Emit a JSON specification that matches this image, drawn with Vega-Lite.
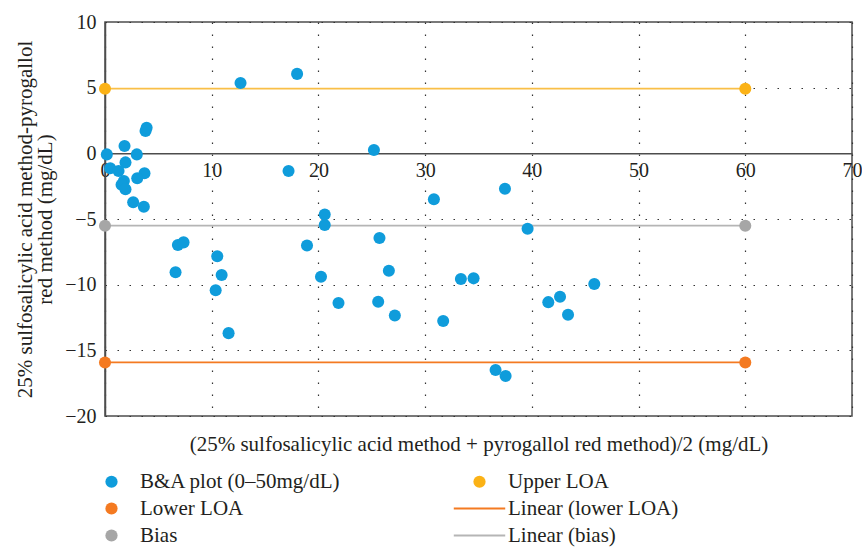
{
  "$schema": "https://vega.github.io/schema/vega-lite/v6.json",
  "width": 747,
  "height": 394,
  "autosize": "none",
  "padding": {"left": 105, "top": 22, "right": 10, "bottom": 131},
  "background": "white",
  "config": {
    "font": "'Liberation Serif', serif",
    "view": {"stroke": "#4d4d4d", "strokeWidth": 1.5},
    "axis": {
      "labelFont": "'Liberation Serif', serif",
      "titleFont": "'Liberation Serif', serif",
      "labelFontSize": 20,
      "titleFontSize": 21,
      "labelColor": "#231f20",
      "titleColor": "#231f20",
      "titleFontWeight": "normal",
      "domainColor": "#4d4d4d",
      "domainWidth": 1.5,
      "ticks": false,
      "gridColor": "#333333",
      "gridDash": [1.5, 10.5],
      "gridWidth": 1.2,
      "gridOpacity": 1
    }
  },
  "data": {
    "values": [
      {"x": 0, "y": 4.92, "s": "Upper LOA"},
      {"x": 60, "y": 4.92, "s": "Upper LOA"},
      {"x": 0, "y": -15.92, "s": "Lower LOA"},
      {"x": 60, "y": -15.92, "s": "Lower LOA"},
      {"x": 0, "y": -5.51, "s": "Bias"},
      {"x": 60, "y": -5.51, "s": "Bias"},
      {"x": 12.7, "y": 5.36, "s": "B&A plot (0–50mg/dL)"},
      {"x": 18.0, "y": 6.05, "s": "B&A plot (0–50mg/dL)"},
      {"x": 25.2, "y": 0.25, "s": "B&A plot (0–50mg/dL)"},
      {"x": 3.8, "y": 1.7, "s": "B&A plot (0–50mg/dL)"},
      {"x": 3.9, "y": 1.95, "s": "B&A plot (0–50mg/dL)"},
      {"x": 1.83, "y": 0.56, "s": "B&A plot (0–50mg/dL)"},
      {"x": 0.17, "y": -0.08, "s": "B&A plot (0–50mg/dL)"},
      {"x": 2.98, "y": -0.08, "s": "B&A plot (0–50mg/dL)"},
      {"x": 1.92, "y": -0.69, "s": "B&A plot (0–50mg/dL)"},
      {"x": 0.49, "y": -1.14, "s": "B&A plot (0–50mg/dL)"},
      {"x": 1.27, "y": -1.35, "s": "B&A plot (0–50mg/dL)"},
      {"x": 3.7, "y": -1.52, "s": "B&A plot (0–50mg/dL)"},
      {"x": 3.02, "y": -1.9, "s": "B&A plot (0–50mg/dL)"},
      {"x": 1.77, "y": -2.11, "s": "B&A plot (0–50mg/dL)"},
      {"x": 1.55, "y": -2.4, "s": "B&A plot (0–50mg/dL)"},
      {"x": 1.92, "y": -2.74, "s": "B&A plot (0–50mg/dL)"},
      {"x": 2.64, "y": -3.73, "s": "B&A plot (0–50mg/dL)"},
      {"x": 3.64, "y": -4.07, "s": "B&A plot (0–50mg/dL)"},
      {"x": 6.83, "y": -6.98, "s": "B&A plot (0–50mg/dL)"},
      {"x": 7.36, "y": -6.78, "s": "B&A plot (0–50mg/dL)"},
      {"x": 6.61, "y": -9.06, "s": "B&A plot (0–50mg/dL)"},
      {"x": 10.52, "y": -7.84, "s": "B&A plot (0–50mg/dL)"},
      {"x": 10.93, "y": -9.27, "s": "B&A plot (0–50mg/dL)"},
      {"x": 10.37, "y": -10.43, "s": "B&A plot (0–50mg/dL)"},
      {"x": 11.58, "y": -13.69, "s": "B&A plot (0–50mg/dL)"},
      {"x": 17.2, "y": -1.35, "s": "B&A plot (0–50mg/dL)"},
      {"x": 18.93, "y": -7.01, "s": "B&A plot (0–50mg/dL)"},
      {"x": 20.59, "y": -4.65, "s": "B&A plot (0–50mg/dL)"},
      {"x": 20.59, "y": -5.46, "s": "B&A plot (0–50mg/dL)"},
      {"x": 20.24, "y": -9.4, "s": "B&A plot (0–50mg/dL)"},
      {"x": 21.88, "y": -11.4, "s": "B&A plot (0–50mg/dL)"},
      {"x": 25.72, "y": -6.45, "s": "B&A plot (0–50mg/dL)"},
      {"x": 26.6, "y": -8.94, "s": "B&A plot (0–50mg/dL)"},
      {"x": 25.6, "y": -11.3, "s": "B&A plot (0–50mg/dL)"},
      {"x": 27.16, "y": -12.34, "s": "B&A plot (0–50mg/dL)"},
      {"x": 30.82, "y": -3.5, "s": "B&A plot (0–50mg/dL)"},
      {"x": 37.48, "y": -2.7, "s": "B&A plot (0–50mg/dL)"},
      {"x": 39.6, "y": -5.74, "s": "B&A plot (0–50mg/dL)"},
      {"x": 33.35, "y": -9.57, "s": "B&A plot (0–50mg/dL)"},
      {"x": 34.54, "y": -9.52, "s": "B&A plot (0–50mg/dL)"},
      {"x": 31.69, "y": -12.77, "s": "B&A plot (0–50mg/dL)"},
      {"x": 41.54, "y": -11.33, "s": "B&A plot (0–50mg/dL)"},
      {"x": 42.64, "y": -10.92, "s": "B&A plot (0–50mg/dL)"},
      {"x": 43.39, "y": -12.29, "s": "B&A plot (0–50mg/dL)"},
      {"x": 45.85, "y": -9.95, "s": "B&A plot (0–50mg/dL)"},
      {"x": 36.6, "y": -16.5, "s": "B&A plot (0–50mg/dL)"},
      {"x": 37.54, "y": -16.96, "s": "B&A plot (0–50mg/dL)"}
    ]
  },
  "encoding": {
    "x": {
      "field": "x",
      "type": "quantitative",
      "scale": {"domain": [0, 70], "nice": false, "zero": false},
      "axis": {
        "orient": "bottom",
        "offset": -262.67,
        "values": [0, 10, 20, 30, 40, 50, 60, 70],
        "title": "(25% sulfosalicylic acid method + pyrogallol red method)/2 (mg/dL)",
        "titleY": 297,
        "titleBaseline": "alphabetic",
        "labelPadding": 7,
        "labelFlush": false,
        "labelOverlap": false,
        "grid": true
      }
    },
    "y": {
      "field": "y",
      "type": "quantitative",
      "scale": {"domain": [-20, 10], "nice": false, "zero": false},
      "axis": {
        "values": [-20, -15, -10, -5, 0, 5, 10],
        "title": ["25% sulfosalicylic acid method-pyrogallol", "red method (mg/dL)"],
        "titleLineHeight": 20,
        "titlePadding": 9,
        "labelPadding": 9,
        "labelFlush": false,
        "labelOverlap": false,
        "grid": true
      }
    }
  },
  "layer": [
    {
      "transform": [{"filter": "datum.s !== 'B&A plot (0–50mg/dL)'"}],
      "mark": {"type": "line", "strokeWidth": 1.8},
      "encoding": {
        "stroke": {
          "field": "s",
          "type": "nominal",
          "scale": {"domain": ["Upper LOA", "Lower LOA", "Bias"], "range": ["#f9bf47", "#f47a21", "#b5b5b5"]},
          "legend": null
        }
      }
    },
    {
      "mark": {"type": "point", "filled": true, "opacity": 1, "size": 145},
      "encoding": {
        "color": {
          "field": "s",
          "type": "nominal",
          "scale": {
            "domain": ["B&A plot (0–50mg/dL)", "Lower LOA", "Bias", "Upper LOA", "Linear (lower LOA)", "Linear (bias)"],
            "range": ["#0f9cdb", "#f47a21", "#a6a6a6", "#fbb216", "#f47a21", "#b5b5b5"]
          },
          "legend": {
            "title": null,
            "orient": "none",
            "legendX": -4,
            "legendY": 449,
            "columns": 2,
            "columnPadding": 108,
            "rowPadding": 5,
            "labelFont": "'Liberation Serif', serif",
            "labelFontSize": 21,
            "labelColor": "#231f20",
            "labelOffset": 18,
            "symbolSize": 150,
            "symbolOpacity": 1,
            "labelLimit": 400,
            "encode": {
              "symbols": {
                "update": {
                  "stroke": {"scale": "color", "field": "value"},
                  "strokeWidth": {"signal": "datum.value === 'Linear (bias)' || datum.value === 'Linear (lower LOA)' ? 2 : 0"}
                }
              }
            }
          }
        },
        "shape": {
          "field": "s",
          "type": "nominal",
          "scale": {
            "domain": ["B&A plot (0–50mg/dL)", "Lower LOA", "Bias", "Upper LOA", "Linear (lower LOA)", "Linear (bias)"],
            "range": ["circle", "circle", "circle", "circle", "M-4.2,0H4.2", "M-4.2,0H4.2"]
          },
          "legend": {
            "title": null,
            "orient": "none",
            "legendX": -4,
            "legendY": 449,
            "columns": 2
          }
        }
      }
    }
  ]
}
